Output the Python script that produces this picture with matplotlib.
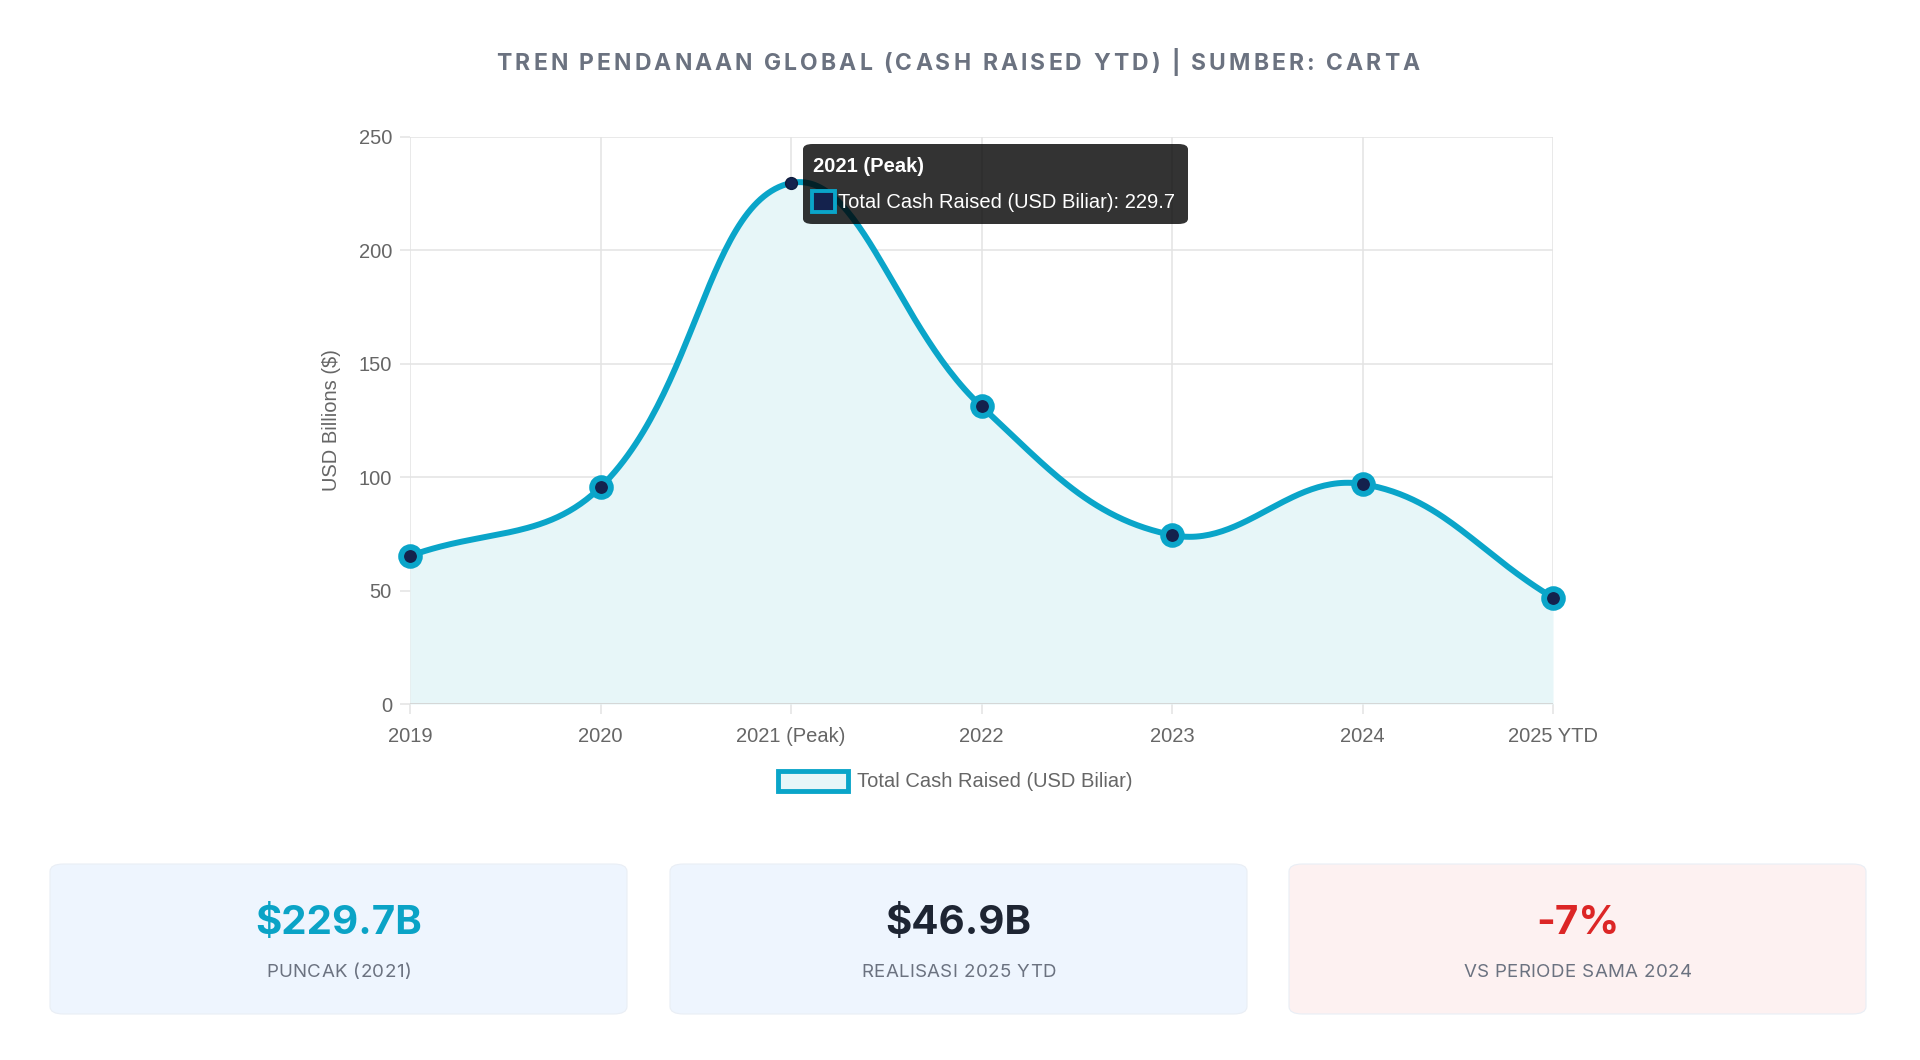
import numpy as np
import matplotlib.pyplot as plt
from matplotlib.patches import FancyBboxPatch, Rectangle, Patch

# Data
years = ['2019', '2020', '2021 (Peak)', '2022', '2023', '2024', '2025 YTD']
cash_raised = [65.3, 95.6, 229.7, 131.2, 74.5, 97.0, 46.9]
series_name = 'Total Cash Raised (USD Biliar)'
peak_index = 2

card_values = ['$229.7B', '$46.9B', '-7%']
card_labels = ['PUNCAK (2021)', 'REALISASI 2025 YTD', 'VS PERIODE SAMA 2024']
card_value_colors = ['#0aa3c6', '#1e2533', '#dc2626']
card_backgrounds = ['#eef5fe', '#eef5fe', '#fdf1f1']

TITLE = 'TREN PENDANAAN GLOBAL (CASH RAISED YTD) | SUMBER: CARTA'

W, H = 1920, 1060
CYAN = '#0aa5c9'
NAVY = '#14224d'
FILL = '#e7f6f8'
GRID = '#e3e3e3'
TEXT_GRAY = '#666666'
CHART_FONT = ['Liberation Sans', 'DejaVu Sans']
UI_FONT = ['Inter', 'DejaVu Sans']


def chartjs_spline(ys, sx, sy, tension=0.4, steps=60):
    """Bezier spline the way Chart.js builds it (control points in pixel space)."""
    pts = np.array([[i * sx, y * sy] for i, y in enumerate(ys)])
    n = len(pts)
    cp_prev, cp_next = [], []
    for i in range(n):
        cur = pts[i]
        prev = pts[i - 1] if i > 0 else cur
        nxt = pts[i + 1] if i < n - 1 else cur
        d01 = np.hypot(*(cur - prev))
        d12 = np.hypot(*(nxt - cur))
        tot = d01 + d12
        s01 = d01 / tot if tot else 0
        s12 = d12 / tot if tot else 0
        cp_prev.append(cur - tension * s01 * (nxt - prev))
        cp_next.append(cur + tension * s12 * (nxt - prev))
    t = np.linspace(0, 1, steps)[:, None]
    segs = []
    for i in range(n - 1):
        p0, p1, p2, p3 = pts[i], cp_next[i], cp_prev[i + 1], pts[i + 1]
        b = ((1 - t) ** 3) * p0 + 3 * ((1 - t) ** 2) * t * p1 + 3 * (1 - t) * t ** 2 * p2 + t ** 3 * p3
        segs.append(b if i == 0 else b[1:])
    curve = np.vstack(segs)
    return curve[:, 0] / sx, curve[:, 1] / sy


def spaced_text(fig, renderer, xc_px, base_px, s, width_px, **kw):
    """Draw letter-spaced text centred on xc_px, stretched to width_px."""
    def w(t):
        tt = fig.text(0, 0, t, **kw)
        bb = tt.get_window_extent(renderer)
        tt.remove()
        return bb.width
    wx = w('X')
    offs = [0.0] + [w(s[:i] + 'X') - wx for i in range(1, len(s))]
    gap = (width_px - w(s)) / (len(s) - 1)
    x0 = xc_px - width_px / 2
    for i, ch in enumerate(s):
        if ch == ' ':
            continue
        fig.text((x0 + offs[i] + i * gap) / W, 1 - base_px / H, ch,
                 ha='left', va='baseline', **kw)


def main():
    fig = plt.figure(figsize=(W / 100, H / 100), dpi=100)
    fig.patch.set_facecolor('white')
    renderer = fig.canvas.get_renderer()

    # Title
    spaced_text(fig, renderer, 958, 70, TITLE, 923, fontsize=16.5,
                fontweight='bold', color='#6b7280', family=UI_FONT)

    # Line chart
    ax_left, ax_right, ax_top, ax_bottom = 410, 1553, 137, 704
    ax = fig.add_axes([ax_left / W, 1 - ax_bottom / H,
                       (ax_right - ax_left) / W, (ax_bottom - ax_top) / H])
    x = np.arange(len(years))
    sx = (ax_right - ax_left) / (len(years) - 1)
    sy = (ax_bottom - ax_top) / 250
    cx, cy = chartjs_spline(cash_raised, sx, sy)

    ax.fill_between(cx, cy, 0, color=FILL, zorder=1, linewidth=0)
    ax.plot(cx, cy, color=CYAN, linewidth=4.3, solid_capstyle='round', zorder=3)
    others = [i for i in range(len(years)) if i != peak_index]
    ax.plot(x[others], np.array(cash_raised)[others], linestyle='none', marker='o',
            markersize=13.5, markerfacecolor=NAVY, markeredgecolor=CYAN,
            markeredgewidth=4.2, zorder=4, clip_on=False)
    ax.plot(x[peak_index], cash_raised[peak_index], linestyle='none', marker='o',
            markersize=8.5, markerfacecolor=NAVY, markeredgecolor='#0d1b3d',
            markeredgewidth=1, zorder=4, clip_on=False)

    ax.set_xlim(0, len(years) - 1)
    ax.set_ylim(0, 250)
    ax.set_yticks(range(0, 251, 50))
    ax.set_xticks(x)
    ax.set_xticklabels(years)
    ax.grid(True, color=GRID, linewidth=1.1, zorder=0)
    ax.set_axisbelow(True)
    for sp in ax.spines.values():
        sp.set_visible(False)
    ax.axhline(0, color='#d4d4d4', linewidth=1.3, zorder=2)
    ax.tick_params(axis='both', length=7, width=1.1, color=GRID,
                   labelsize=14.5, labelcolor=TEXT_GRAY)
    ax.tick_params(axis='x', pad=9.5)
    ax.tick_params(axis='y', pad=6)
    for lab in ax.get_xticklabels() + ax.get_yticklabels():
        lab.set_family(CHART_FONT)
    ax.set_ylabel('USD Billions ($)', fontsize=14.5, color=TEXT_GRAY, family=CHART_FONT)
    ax.yaxis.set_label_coords((341 - ax_left) / (ax_right - ax_left), 0.5)

    # Legend
    handle = Patch(facecolor=FILL, edgecolor=CYAN, linewidth=3.5)
    fig.legend([handle], [series_name], loc='center', bbox_to_anchor=(955 / W, 1 - 781 / H),
               frameon=False, handlelength=3.5, handleheight=1.15, handletextpad=0.4,
               prop={'family': CHART_FONT, 'size': 14.5}, labelcolor=TEXT_GRAY)

    # Tooltip for the peak (semi-transparent, like the reference)
    tip = FancyBboxPatch((803 / W, 1 - 224 / H), (1188 - 803) / W, (224 - 144) / H,
                         boxstyle='round,pad=0,rounding_size=0.005',
                         transform=fig.transFigure, facecolor=(0, 0, 0, 0.8),
                         edgecolor='none', zorder=10)
    fig.patches.append(tip)
    fig.text(813 / W, 1 - 167 / H, years[peak_index], color='white', fontsize=14.5,
             fontweight='bold', family=CHART_FONT, ha='left', va='center', zorder=11)
    fig.patches.append(Rectangle((812 / W, 1 - 212 / H), 23 / W, 21 / H,
                                 transform=fig.transFigure, facecolor=NAVY,
                                 edgecolor=CYAN, linewidth=2.8, zorder=11))
    fig.text(838 / W, 1 - 202 / H, f'{series_name}: {cash_raised[peak_index]}',
             color='white', fontsize=14.5, family=CHART_FONT, ha='left', va='center', zorder=11)

    # Summary cards
    card_x = [(50, 627), (670, 1247), (1289, 1866)]
    for (x0, x1), val, lab, vcol, bg in zip(card_x, card_values, card_labels,
                                             card_value_colors, card_backgrounds):
        card = FancyBboxPatch((x0 / W, 1 - 1014 / H), (x1 - x0) / W, 150 / H,
                              boxstyle='round,pad=0,rounding_size=0.007',
                              transform=fig.transFigure, facecolor=bg,
                              edgecolor='#e9eef5', linewidth=0.8)
        fig.patches.append(card)
        xc = (x0 + x1) / 2
        fig.text(xc / W, 1 - 923 / H, val, ha='center', va='center', fontsize=29,
                 fontweight='bold', color=vcol, family=UI_FONT)
        tw = fig.text(0, 0, lab, fontsize=13.5, family=UI_FONT)
        nat = tw.get_window_extent(renderer).width
        tw.remove()
        spaced_text(fig, renderer, xc, 977, lab, nat + 0.02 * 19 * (len(lab) - 1),
                    fontsize=13.5, color='#6b7280', family=UI_FONT)

    fig.savefig('out.png', dpi=100, facecolor='white')


if __name__ == '__main__':
    main()
